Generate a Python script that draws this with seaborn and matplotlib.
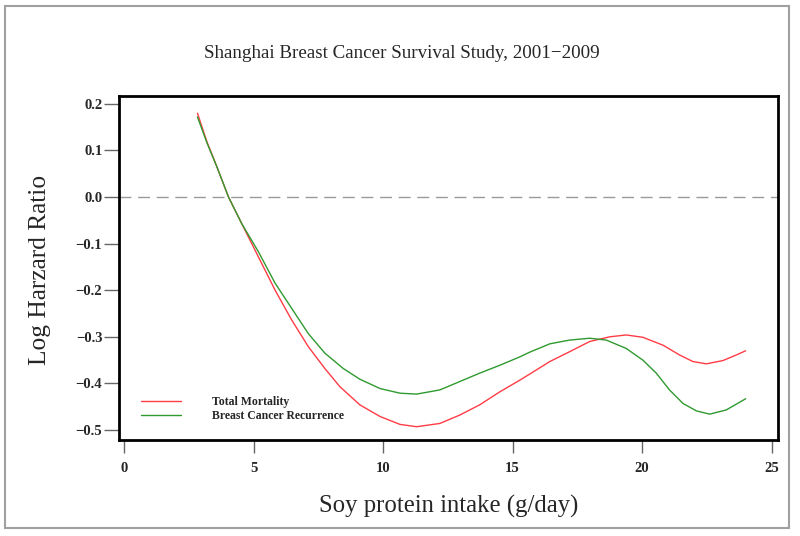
import numpy as np
import pandas as pd
import matplotlib
matplotlib.use("Agg")
import matplotlib.pyplot as plt
import matplotlib.patches as mpatches
import seaborn as sns

# ---- data ----
red_x = [2.83, 3.2, 3.58, 4.03, 4.54, 5.18, 5.83, 6.47, 7.11, 7.75, 8.33, 9.10, 9.88, 10.65, 11.29,
         12.19, 12.96, 13.73, 14.51, 15.28, 15.66, 16.44, 17.2, 17.98, 18.75, 19.39, 20.03, 20.81,
         21.45, 21.96, 22.48, 23.12, 23.64, 24.0]
red_y = [0.180, 0.118, 0.065, 0.0, -0.057, -0.128, -0.200, -0.264, -0.321, -0.368, -0.407, -0.446,
         -0.471, -0.488, -0.493, -0.486, -0.468, -0.446, -0.418, -0.393, -0.380, -0.353, -0.332,
         -0.310, -0.300, -0.296, -0.301, -0.318, -0.339, -0.353, -0.358, -0.351, -0.339, -0.330]
green_x = [2.83, 3.2, 3.58, 4.03, 4.54, 5.18, 5.83, 6.47, 7.11, 7.75, 8.46, 9.10, 9.88, 10.65, 11.29,
           12.19, 12.96, 13.73, 14.51, 15.28, 15.66, 16.44, 17.2, 17.98, 18.62, 19.39, 20.03, 20.55,
           21.06, 21.58, 22.1, 22.61, 23.25, 24.0]
green_y = [0.172, 0.116, 0.065, 0.0, -0.057, -0.117, -0.185, -0.239, -0.293, -0.335, -0.368, -0.391,
           -0.411, -0.421, -0.423, -0.414, -0.396, -0.378, -0.361, -0.343, -0.333, -0.315, -0.307,
           -0.303, -0.307, -0.325, -0.350, -0.378, -0.414, -0.443, -0.459, -0.466, -0.457, -0.433]
series_names = ["Total Mortality", "Breast Cancer Recurrence"]
x_ticks = [0, 5, 10, 15, 20, 25]
y_ticks = [0.2, 0.1, 0.0, -0.1, -0.2, -0.3, -0.4, -0.5]
title = "Shanghai Breast Cancer Survival Study, 2001\u22122009"
xlabel = "Soy protein intake (g/day)"
ylabel = "Log Harzard Ratio"

df = pd.concat([
    pd.DataFrame({"x": red_x, "y": red_y, "series": series_names[0]}),
    pd.DataFrame({"x": green_x, "y": green_y, "series": series_names[1]}),
], ignore_index=True)

sns.set_theme(style="white")
plt.rcParams["font.family"] = ["Liberation Serif", "DejaVu Serif"]

W, H = 800, 536
fig = plt.figure(figsize=(8.0, 5.36), dpi=100)
ax = fig.add_axes([119 / W, 1 - 440 / H, (778 - 119) / W, (440 - 96) / H])

palette = {series_names[0]: "#ff3c46", series_names[1]: "#2f9a2f"}
sns.lineplot(data=df, x="x", y="y", hue="series", palette=palette, sort=False,
             estimator=None, linewidth=1.0, ax=ax, legend=False)

ax.axhline(0.0, color="#9a9a9a", lw=1.0, dashes=(8.6, 4.8))

ax.set_xlim(-0.2, 25.25)
ax.set_ylim(-0.5215, 0.217)
ax.set_xticks(x_ticks)
ax.set_yticks(y_ticks)
ax.set_xticklabels([str(t) for t in x_ticks], fontweight="bold", fontsize=10.5)
ax.set_yticklabels([f"{t:.1f}".replace("-", "\u2212") for t in y_ticks], fontweight="bold", fontsize=10.5)
ax.tick_params(axis="both", direction="out", length=10.5, width=1.0, color="#666666",
               left=True, bottom=True)
ax.tick_params(axis="y", pad=1.5)
ax.tick_params(axis="x", length=9, pad=7)
for s in ax.spines.values():
    s.set_color("black")
    s.set_linewidth(2.0)
ax.set_xlabel("")
ax.set_ylabel("")

# legend
handles = [plt.Line2D([], [], color=palette[n], lw=1.0) for n in series_names]
leg = ax.legend(handles, series_names, loc="lower left", bbox_to_anchor=(0.033, 0.052),
                frameon=False, borderpad=0, borderaxespad=0,
                handlelength=3.4, handletextpad=2.7, labelspacing=0.16,
                prop={"family": ["Liberation Serif"], "weight": "bold", "size": 8.45})

fig.text(402 / W, 1 - 53 / H, title, ha="center", va="center", fontsize=13.7)
fig.text(448.5 / W, 1 - 506 / H, xlabel, ha="center", va="center", fontsize=17.8)
fig.text(40 / W, 1 - 270 / H, ylabel, ha="center", va="center", rotation=90, fontsize=18.3)

fig.patches.append(mpatches.Rectangle((5 / W, 1 - 528 / H), (789 - 5) / W, (528 - 6) / H,
                                      transform=fig.transFigure, fill=False,
                                      edgecolor="#a0a0a0", lw=1.5))

fig.savefig("out.png", dpi=100, facecolor="white")
